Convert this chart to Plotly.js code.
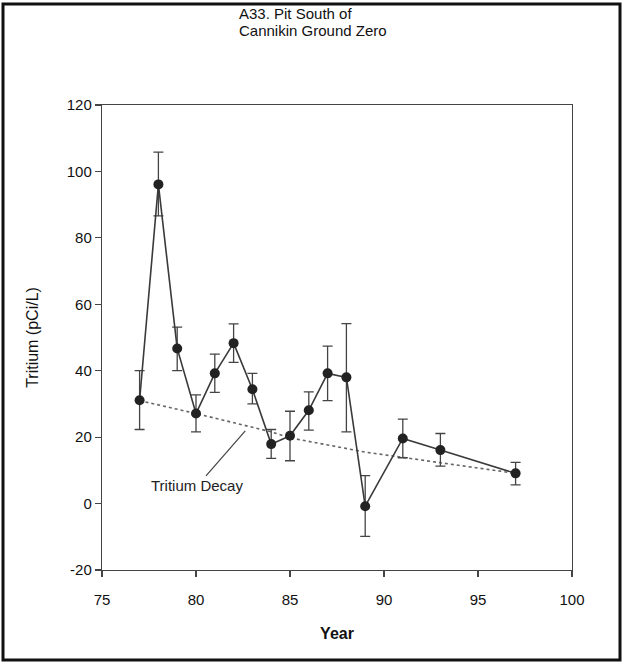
<!DOCTYPE html>
<html>
<head>
<meta charset="utf-8">
<script src="https://cdn.plot.ly/plotly-3.0.1.min.js"></script>
<style>html,body{margin:0;padding:0;background:#fff;}#chart{width:624px;height:664px;}</style>
</head>
<body>
<div id="chart"></div>
<script>
// Measured tritium data
const years = [77, 78, 79, 80, 81, 82, 83, 84, 85, 86, 87, 88, 89, 91, 93, 97];
const tritium = [31.1, 96.1, 46.7, 27.1, 39.2, 48.3, 34.4, 17.9, 20.4, 28.1, 39.2, 38.0, -0.8, 19.6, 16.1, 9.1];
const errPlus = [8.9, 9.7, 6.4, 5.6, 5.8, 5.8, 4.8, 4.4, 7.4, 5.5, 8.2, 16.2, 9.2, 5.8, 5.0, 3.3];
const errMinus = [8.8, 9.5, 6.7, 5.5, 5.7, 5.8, 4.4, 4.3, 7.5, 6.0, 8.2, 16.4, 9.1, 5.8, 4.8, 3.5];
// Tritium decay curve
const decayYears = [77, 80, 84, 85, 89, 91, 93, 97];
const decayValues = [31.0, 27.1, 21.6, 19.8, 15.5, 13.8, 12.3, 9.1];
// Axis ticks
const xTicks = [75, 80, 85, 90, 95, 100];
const yTicks = [-20, 0, 20, 40, 60, 80, 100, 120];
// Text
const titleLines = ['A33. Pit South of', 'Cannikin Ground Zero'];
const xTitle = 'Year';
const yTitle = 'Tritium (pCi/L)';
const decayLabel = 'Tritium Decay';

const FONT = 'Arial, "Liberation Sans", sans-serif';

const traces = [
  {
    x: decayYears, y: decayValues, type: 'scatter', mode: 'lines',
    line: {color: '#666', width: 1.6, dash: 'dot'},
    hoverinfo: 'skip', showlegend: false
  },
  {
    x: years, y: tritium, type: 'scatter', mode: 'lines+markers',
    line: {color: '#3a3a3a', width: 1.6},
    marker: {color: '#222', size: 10},
    error_y: {type: 'data', symmetric: false, array: errPlus, arrayminus: errMinus,
              color: '#444', thickness: 1.3, width: 5},
    showlegend: false
  }
];

const layout = {
  width: 624, height: 664,
  margin: {l: 102, r: 52, t: 105, b: 94},
  paper_bgcolor: '#fff', plot_bgcolor: '#fff',
  font: {family: FONT, color: '#111'},
  showlegend: false,
  xaxis: {
    range: [75, 100], tickvals: xTicks, ticktext: xTicks.map(String),
    showgrid: false, zeroline: false, showline: true, mirror: true,
    linecolor: '#444', linewidth: 1.2,
    ticks: 'outside', ticklen: 6, tickcolor: '#444', tickwidth: 1.2,
    ticklabelstandoff: 10,
    tickfont: {size: 15, family: FONT, color: '#111'},
    title: {text: '<b>' + xTitle + '</b>', font: {size: 16, family: FONT, color: '#111'}, standoff: 20}
  },
  yaxis: {
    range: [-20, 120], tickvals: yTicks, ticktext: yTicks.map(String),
    showgrid: false, zeroline: false, showline: true, mirror: true,
    linecolor: '#444', linewidth: 1.2,
    ticks: 'outside', ticklen: 6, tickcolor: '#444', tickwidth: 1.2,
    tickfont: {size: 15, family: FONT, color: '#111'},
    title: {text: yTitle, font: {size: 16, family: FONT, color: '#111'}, standoff: 24}
  },
  annotations: [
    {
      xref: 'paper', yref: 'paper', x: (237 - 102) / 470, y: (570 - 13) / 465,
      xanchor: 'left', yanchor: 'middle', align: 'left', showarrow: false,
      text: titleLines[0], font: {size: 15, family: FONT, color: '#111'}
    },
    {
      xref: 'paper', yref: 'paper', x: (237 - 102) / 470, y: (570 - 31) / 465,
      xanchor: 'left', yanchor: 'middle', align: 'left', showarrow: false,
      text: titleLines[1], font: {size: 15, family: FONT, color: '#111'}
    },
    {
      xref: 'x', yref: 'y', x: 82.62, y: 21.9,
      text: decayLabel, showarrow: true, arrowhead: 0, arrowwidth: 1.2,
      arrowcolor: '#444', ax: -48, ay: 55, standoff: 0,
      font: {size: 15, family: FONT, color: '#222'}
    }
  ],
  shapes: [
    {
      type: 'rect', xref: 'paper', yref: 'paper',
      x0: (3 - 102) / 470, x1: (620 - 102) / 470,
      y0: (570 - 660) / 465, y1: (570 - 4) / 465,
      line: {color: '#111', width: 3}, fillcolor: 'rgba(0,0,0,0)'
    }
  ]
};

Plotly.newPlot('chart', traces, layout, {displayModeBar: false, staticPlot: true});
</script>
</body>
</html>
